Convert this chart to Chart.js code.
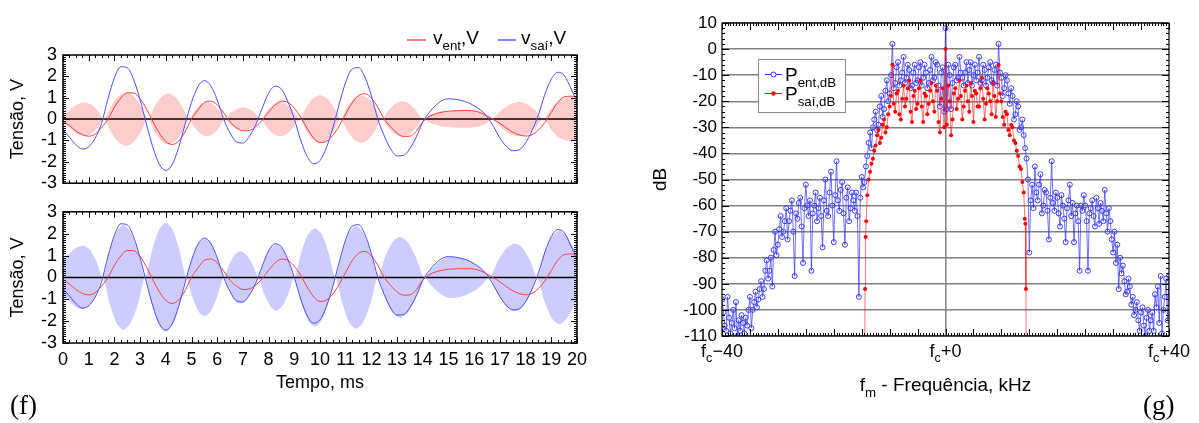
<!DOCTYPE html>
<html>
<head>
<meta charset="utf-8">
<script src="https://cdn.jsdelivr.net/npm/chart.js@4.4.1/dist/chart.umd.min.js"></script>
<style>
  body { margin: 0; background: #fff; }
  #wrap { position: relative; width: 1199px; height: 423px; overflow: hidden; background: #fff; }
  canvas { position: absolute; }
  .tag { position: absolute; font-family: "Liberation Serif", "DejaVu Serif", serif; font-size: 27px; line-height: 30px; }
</style>
</head>
<body>
<div id="wrap">
  <canvas id="topPanel" width="600" height="200" style="left:0px;top:0px"></canvas>
  <canvas id="botPanel" width="600" height="228" style="left:0px;top:195px"></canvas>
  <canvas id="specPanel" width="559" height="423" style="left:640px;top:0px"></canvas>
  <div class="tag" style="left:10px;top:390px">(f)</div>
  <div class="tag" style="left:1143px;top:390px">(g)</div>
</div>
<script>
// ---- dados (f): tempo em ms, tensões em V ----
const timeMs = [0,0.25,0.5,0.75,1,1.25,1.5,1.75,2,2.25,2.5,2.75,3,3.25,3.5,3.75,4,4.25,4.5,4.75,
  5,5.25,5.5,5.75,6,6.25,6.5,6.75,7,7.25,7.5,7.75,8,8.25,8.5,8.75,9,9.25,9.5,9.75,
  10,10.25,10.5,10.75,11,11.25,11.5,11.75,12,12.25,12.5,12.75,13,13.25,13.5,13.75,14,14.25,14.5,14.75,
  15,15.25,15.5,15.75,16,16.25,16.5,16.75,17,17.25,17.5,17.75,18,18.25,18.5,18.75,19,19.25,19.5,19.75,20];

// v_ent (linha vermelha)
const vEnt = [-0.1,-0.3,-0.55,-0.73,-0.8,-0.7,-0.4,0,0.55,0.98,1.23,1.22,0.95,0.47,-0.12,-0.66,-1.05,-1.19,-1.03,-0.6,
  0,0.43,0.78,0.84,0.67,0.29,-0.13,-0.4,-0.55,-0.53,-0.35,-0.06,0.33,0.66,0.84,0.78,0.51,0.09,-0.44,-0.88,
  -1.1,-1.04,-0.76,-0.31,0.24,0.76,1.1,1.19,0.98,0.55,0,-0.37,-0.66,-0.81,-0.8,-0.56,-0.13,0.12,0.25,0.33,
  0.37,0.39,0.4,0.4,0.38,0.3,0.15,-0.02,-0.2,-0.42,-0.61,-0.74,-0.79,-0.73,-0.51,-0.16,0.32,0.78,1.04,1.07,1.05];

// v_saí (linha azul)
const vSai = [-0.5,-0.85,-1.2,-1.4,-1.3,-0.9,-0.2,0.96,1.93,2.45,2.4,1.85,0.9,-0.24,-1.33,-2.12,-2.4,-2.12,-1.33,-0.24,
  0.78,1.52,1.8,1.56,0.9,0,-0.65,-1.07,-1.12,-0.81,-0.26,0.51,1.21,1.54,1.4,0.82,0,-0.99,-1.75,-2.09,
  -1.94,-1.33,-0.41,0.71,1.73,2.34,2.41,1.96,1.09,0,-0.78,-1.4,-1.72,-1.7,-1.38,-0.83,-0.14,0.31,0.64,0.87,
  0.95,0.93,0.87,0.78,0.62,0.42,0.12,-0.35,-0.88,-1.28,-1.48,-1.44,-1.11,-0.54,0.2,1.16,1.87,2.19,2.05,1.48,0.8];

// envoltória do sinal modulado de entrada (área rosa)
const envEntT = [0,0.25,0.55,0.85,1.1,1.35,1.6, 1.88,2.17,2.45,2.73,3.02,3.3, 3.57,3.83,4.1,4.37,4.63,4.9,
  5.13,5.37,5.6,5.83,6.07,6.3, 6.53,6.77,7,7.23,7.47,7.7, 7.95,8.2,8.45,8.7,8.95,9.2,
  9.47,9.73,10,10.27,10.53,10.8, 11.07,11.33,11.6,11.87,12.13,12.4, 12.67,12.93,13.2,13.47,13.73,14,
  14.3,14.7,15.2,15.8,16.2,16.5,16.7, 17.05,17.4,17.75,18.07,18.38,18.7, 19,19.3,19.6,19.8,20];
const envEntV = [0.1,0.42,0.68,0.78,0.68,0.39,0, 0.63,1.09,1.25,1.09,0.63,0, 0.6,1.04,1.2,1.04,0.6,0,
  0.4,0.7,0.8,0.7,0.4,0, 0.28,0.48,0.55,0.48,0.28,0, 0.4,0.7,0.8,0.7,0.4,0,
  0.56,0.97,1.12,0.97,0.56,0, 0.56,0.97,1.12,0.97,0.56,0, 0.42,0.72,0.83,0.72,0.42,0,
  0.2,0.33,0.39,0.4,0.34,0.18,0, 0.4,0.7,0.8,0.7,0.4,0, 0.5,0.87,1,1.02,1];

// envoltória do sinal modulado de saída (área lilás)
const envSaiT = [0,0.25,0.5,0.8,1.05,1.3,1.55, 1.82,2.08,2.35,2.63,2.92,3.2, 3.47,3.73,4,4.27,4.53,4.8,
  5.03,5.27,5.5,5.75,6,6.25, 6.47,6.68,6.9,7.13,7.37,7.6, 7.83,8.07,8.3,8.53,8.77,9,
  9.27,9.53,9.8,10.07,10.33,10.6, 10.87,11.13,11.4,11.68,11.97,12.25, 12.53,12.82,13.1,13.42,13.73,14.05,
  14.3,14.6,15,15.5,16,16.3,16.6, 16.93,17.27,17.6,17.88,18.17,18.45, 18.73,19.02,19.3,19.55,19.8,20];
const envSaiV = [0.8,1.1,1.35,1.45,1.26,0.73,0, 1.2,2.08,2.4,2.08,1.2,0, 1.25,2.17,2.5,2.17,1.25,0,
  0.89,1.55,1.78,1.55,0.89,0, 0.6,1.04,1.2,1.04,0.6,0, 0.76,1.32,1.52,1.32,0.76,0,
  1.13,1.96,2.25,1.96,1.13,0, 1.18,2.04,2.35,2.04,1.18,0, 0.93,1.61,1.85,1.61,0.93,0,
  0.33,0.68,0.94,0.88,0.62,0.35,0, 0.78,1.35,1.55,1.35,0.78,0, 1.08,1.87,2.15,1.95,1.5,1];

// ---- dados (g): espectro, kHz em torno de fc ----
const freqKHz = [
  -40,-39.75,-39.5,-39.25,-39,-38.75,-38.5,-38.25,-38,-37.75,-37.5,-37.25,-37,-36.75,-36.5,-36.25,-36,-35.75,-35.5,-35.25,
  -35,-34.75,-34.5,-34.25,-34,-33.75,-33.5,-33.25,-33,-32.75,-32.5,-32.25,-32,-31.75,-31.5,-31.25,-31,-30.75,-30.5,-30.25,
  -30,-29.75,-29.5,-29.25,-29,-28.75,-28.5,-28.25,-28,-27.75,-27.5,-27.25,-27,-26.75,-26.5,-26.25,-26,-25.75,-25.5,-25.25,
  -25,-24.75,-24.5,-24.25,-24,-23.75,-23.5,-23.25,-23,-22.75,-22.5,-22.25,-22,-21.75,-21.5,-21.25,-21,-20.75,-20.5,-20.25,
  -20,-19.75,-19.5,-19.25,-19,-18.75,-18.5,-18.25,-18,-17.75,-17.5,-17.25,-17,-16.75,-16.5,-16.25,-16,-15.75,-15.5,-15.25,
  -15,-14.75,-14.5,-14.25,-14,-13.75,-13.5,-13.25,-13,-12.75,-12.5,-12.25,-12,-11.75,-11.5,-11.25,-11,-10.75,-10.5,-10.25,
  -10,-9.75,-9.5,-9.25,-9,-8.75,-8.5,-8.25,-8,-7.75,-7.5,-7.25,-7,-6.75,-6.5,-6.25,-6,-5.75,-5.5,-5.25,
  -5,-4.75,-4.5,-4.25,-4,-3.75,-3.5,-3.25,-3,-2.75,-2.5,-2.25,-2,-1.75,-1.5,-1.25,-1,-0.75,-0.5,-0.25,
  0,0.25,0.5,0.75,1,1.25,1.5,1.75,2,2.25,2.5,2.75,3,3.25,3.5,3.75,4,4.25,4.5,4.75,
  5,5.25,5.5,5.75,6,6.25,6.5,6.75,7,7.25,7.5,7.75,8,8.25,8.5,8.75,9,9.25,9.5,9.75,
  10,10.25,10.5,10.75,11,11.25,11.5,11.75,12,12.25,12.5,12.75,13,13.25,13.5,13.75,14,14.25,14.5,14.75,
  15,15.25,15.5,15.75,16,16.25,16.5,16.75,17,17.25,17.5,17.75,18,18.25,18.5,18.75,19,19.25,19.5,19.75,
  20,20.25,20.5,20.75,21,21.25,21.5,21.75,22,22.25,22.5,22.75,23,23.25,23.5,23.75,24,24.25,24.5,24.75,
  25,25.25,25.5,25.75,26,26.25,26.5,26.75,27,27.25,27.5,27.75,28,28.25,28.5,28.75,29,29.25,29.5,29.75,
  30,30.25,30.5,30.75,31,31.25,31.5,31.75,32,32.25,32.5,32.75,33,33.25,33.5,33.75,34,34.25,34.5,34.75,
  35,35.25,35.5,35.75,36,36.25,36.5,36.75,37,37.25,37.5,37.75,38,38.25,38.5,38.75,39,39.25,39.5,39.75,
  40];
const pEnt = [
  -96,-101,-106,-108,-95,-103,-109,-105,-100,-107,-97,-110,-104,-108,-102,-105,-109,-103,-106,-100,
  -95,-107,-100,-97,-93,-99,-96,-92,-89,-95,-92,-85,-81,-88,-85,-80,-91,-77,-70,-79,
  -75,-69,-64,-72,-70,-66,-61,-73,-66,-62,-58,-70,-87,-63,-65,-59,-57,-68,-82,-61,
  -52,-60,-64,-58,-85,-63,-60,-55,-66,-61,-57,-64,-76,-58,-50,-62,-64,-55,-47,-60,
  -74,-56,-43,-58,-62,-54,-51,-63,-75,-57,-53,-66,-61,-55,-58,-62,-55,-64,-95,-57,
  -49,-53,-51,-45,-41,-36,-32,-38,-30,-27,-24,-31,-29,-22,-18,-26,-23,-16,-12,-20,
  -17,-10,2,-15,-13,-7,-5,-14,-12,-9,-3,-13,-11,-6,-8,-15,-14,-9,-6,-13,
  -12,-7,-5,-14,-11,-6,-9,-15,-13,-8,-3,-12,-11,-5,-6,-14,-22,-9,-7,-24,
  8,-23,-6,-10,-23,-13,-7,-6,-12,-11,-3,-9,-11,-14,-9,-5,-13,-8,-5,-14,
  -10,-6,-12,-9,-3,-13,-12,-6,-8,-14,-11,-7,-5,-12,-13,-8,-6,-14,2,-9,
  -11,-18,-15,-10,-12,-17,-21,-15,-18,-27,-25,-20,-22,-31,-30,-27,-33,-38,-42,-50,
  -78,-58,-52,-61,-45,-55,-58,-52,-48,-63,-60,-54,-55,-62,-73,-57,-43,-59,-62,-55,
  -57,-63,-68,-56,-60,-65,-74,-61,-58,-52,-64,-59,-74,-63,-60,-66,-85,-60,-62,-56,
  -60,-66,-85,-63,-61,-58,-64,-68,-57,-61,-67,-59,-62,-66,-54,-63,-70,-61,-66,-73,
  -78,-70,-82,-75,-92,-80,-86,-83,-89,-94,-93,-88,-91,-98,-95,-102,-100,-97,-104,-108,
  -101,-99,-106,-110,-103,-100,-108,-104,-101,-108,-94,-99,-91,-105,-87,-109,-100,-95,-88,-104,
  -87];

const freqSai = [-14.6,-14.4,-14.3,-14.2,
  -14,-13.75,-13.5,-13.25,-13,-12.75,-12.5,-12.25,-12,-11.75,-11.5,-11.25,-11,-10.75,-10.5,-10.25,-10,-9.75,-9.5,-9.25,
  -9,-8.75,-8.5,-8.25,-8,-7.75,-7.5,-7.25,-7,-6.75,-6.5,-6.25,-6,-5.75,-5.5,-5.25,-5,-4.75,-4.5,-4.25,
  -4,-3.75,-3.5,-3.25,-3,-2.75,-2.5,-2.25,-2,-1.75,-1.5,-1.25,-1,-0.75,-0.5,-0.25,0,0.25,0.5,0.75,
  1,1.25,1.5,1.75,2,2.25,2.5,2.75,3,3.25,3.5,3.75,4,4.25,4.5,4.75,5,5.25,5.5,5.75,
  6,6.25,6.5,6.75,7,7.25,7.5,7.75,8,8.25,8.5,8.75,9,9.25,9.5,9.75,10,10.25,10.5,10.75,
  11,11.25,11.5,11.75,12,12.25,12.5,12.75,13,13.25,13.5,13.75,14,
  14.2,14.3,14.4,14.6];
const pSai = [-200,-92,-72,-66,
  -56,-50,-47,-44,-42,-39,-37,-33,-31,-36,-34,-29,-27,-32,-30,-25,-22,-18,-6,-21,
  -24,-17,-16,-25,-27,-19,-14,-22,-19,-15,-12,-24,-28,-18,-16,-23,-21,-15,-12,-22,
  -28,-17,-18,-25,-21,-16,-13,-20,-24,-14,-16,-28,-32,-19,-15,-30,0,-29,-14,-20,
  -33,-27,-17,-15,-23,-19,-12,-18,-27,-22,-16,-14,-20,-24,-13,-18,-28,-16,-17,-22,
  -22,-15,-11,-19,-27,-21,-15,-17,-20,-25,-13,-18,-26,-20,-6,-17,-20,-26,-29,-24,
  -25,-31,-33,-29,-30,-35,-36,-39,-41,-45,-46,-51,-55,
  -65,-67,-92,-200];

const specTickVals = [-40, 0, 40];
const specTickText = ['\u221240', '+0', '+40'];

Chart.defaults.font.family = '"Liberation Sans", Arial, sans-serif';
Chart.defaults.color = '#000';
const FONT = '"Liberation Sans", Arial, sans-serif';

// texto com subscritos desenhado no canvas
function drawRich(ctx, parts, x, y, size, align) {
  let w = 0;
  parts.forEach(p => { ctx.font = (p.sub ? size * 0.7 : size) + 'px ' + FONT; w += ctx.measureText(p.t).width; });
  let cx = align === 'center' ? x - w / 2 : x;
  ctx.textAlign = 'left';
  ctx.textBaseline = 'alphabetic';
  ctx.fillStyle = '#000';
  parts.forEach(p => {
    ctx.font = (p.sub ? size * 0.7 : size) + 'px ' + FONT;
    ctx.fillText(p.t, cx, p.sub ? y + size * 0.3 : y);
    cx += ctx.measureText(p.t).width;
  });
}

// moldura com marcas para dentro nos quatro lados
const frameTicks = {
  id: 'frameTicks',
  afterDraw(chart, args, o) {
    const { ctx, chartArea: a, scales: { x, y } } = chart;
    const side = (sc, minor, major, cb) => {
      const n = Math.round((sc.max - sc.min) / minor);
      for (let i = 0; i <= n; i++) {
        const v = sc.min + i * minor;
        const r = v / major;
        cb(Math.round(sc.getPixelForValue(v)) + 0.5, Math.abs(r - Math.round(r)) < 1e-6 ? o.big : o.small);
      }
    };
    ctx.save();
    ctx.strokeStyle = '#000';
    ctx.lineWidth = 1;
    ctx.beginPath();
    side(x, o.xMinor, o.xMajor, (p, l) => {
      ctx.moveTo(p, a.bottom); ctx.lineTo(p, a.bottom - l);
      ctx.moveTo(p, a.top); ctx.lineTo(p, a.top + l);
    });
    side(y, o.yMinor, o.yMajor, (p, l) => {
      ctx.moveTo(a.left, p); ctx.lineTo(a.left + l, p);
      ctx.moveTo(a.right, p); ctx.lineTo(a.right - l, p);
    });
    ctx.stroke();
    ctx.lineWidth = o.lw;
    ctx.strokeRect(a.left, a.top, a.right - a.left, a.bottom - a.top);
    ctx.restore();
  }
};

// linha de zero por cima da área preenchida
const zeroLine = {
  id: 'zeroLine',
  beforeDatasetDraw(chart, args) {
    if (args.index !== 1) return;
    const { ctx, chartArea: a, scales: { y } } = chart;
    const p = y.getPixelForValue(0);
    ctx.save();
    ctx.strokeStyle = '#000';
    ctx.lineWidth = 1.5;
    ctx.beginPath(); ctx.moveTo(a.left, p); ctx.lineTo(a.right, p); ctx.stroke();
    ctx.restore();
  }
};

// legenda do painel superior
const vLegend = {
  id: 'vLegend',
  afterDraw(chart) {
    const ctx = chart.ctx;
    ctx.save();
    ctx.lineWidth = 1.2;
    ctx.strokeStyle = '#ff3030';
    ctx.beginPath(); ctx.moveTo(407, 40); ctx.lineTo(426, 40); ctx.stroke();
    ctx.strokeStyle = '#3030ff';
    ctx.beginPath(); ctx.moveTo(498, 40); ctx.lineTo(516, 40); ctx.stroke();
    drawRich(ctx, [{ t: 'v' }, { t: 'ent', sub: true }, { t: ',V' }], 433, 44, 19);
    drawRich(ctx, [{ t: 'v' }, { t: 'saí', sub: true }, { t: ',V' }], 521, 44, 19);
    ctx.restore();
  }
};

function pts(xs, ys) { return xs.map((v, i) => ({ x: v, y: ys[i] })); }

function panel(id, envT, envV, fillColor, bottom) {
  return new Chart(document.getElementById(id), {
    type: 'line',
    data: {
      datasets: [
        { data: pts(timeMs, vSai), borderColor: '#4b4bff', borderWidth: 1, pointRadius: 0, cubicInterpolationMode: 'monotone' },
        { data: pts(timeMs, vEnt), borderColor: '#ff3a3a', borderWidth: 1, pointRadius: 0, cubicInterpolationMode: 'monotone' },
        { data: pts(envT, envV), borderColor: 'rgba(0,0,0,0)', borderWidth: 1, pointRadius: 0, tension: 0.25, fill: '+1', backgroundColor: fillColor },
        { data: pts(envT, envV.map(v => -v)), borderColor: 'rgba(0,0,0,0)', borderWidth: 1, pointRadius: 0, tension: 0.25, fill: false }
      ]
    },
    options: {
      responsive: false,
      animation: false,
      devicePixelRatio: 1,
      layout: { padding: { left: 0, right: 23, top: bottom ? 12 : 55, bottom: 0 } },
      plugins: {
        legend: { display: false },
        tooltip: { enabled: false },
        frameTicks: { xMinor: 0.25, xMajor: 1, yMinor: 0.1, yMajor: 1, big: 6, small: 3, lw: 1.5 }
      },
      scales: {
        x: {
          type: 'linear', min: 0, max: 20,
          grid: { display: false, drawTicks: false },
          border: { display: false },
          ticks: { display: bottom, stepSize: 1, autoSkip: false, maxRotation: 0, padding: 6, font: { size: 18 } },
          title: { display: bottom, text: 'Tempo, ms', font: { size: 18 }, padding: { top: 0, bottom: 29 } },
          afterFit: s => { s.height = bottom ? 80 : 9; }
        },
        y: {
          min: -3, max: 3,
          grid: { display: false, drawTicks: false },
          border: { display: false },
          ticks: { stepSize: 1, autoSkip: false, padding: 6, font: { size: 18 } },
          title: { display: true, text: 'Tensão, V', font: { size: 18 }, padding: { top: 7, bottom: 0 } },
          afterFit: s => { s.width = 63; }
        }
      }
    },
    plugins: bottom ? [frameTicks, zeroLine] : [frameTicks, zeroLine, vLegend]
  });
}

panel('topPanel', envEntT, envEntV, 'rgb(255,204,204)', false);
panel('botPanel', envSaiT, envSaiV, 'rgb(204,204,255)', true);

// rótulos com subscritos e legenda do espectro
const specText = {
  id: 'specText',
  afterDraw(chart) {
    const { ctx, scales: { x } } = chart;
    ctx.save();
    specTickVals.forEach((v, i) => {
      drawRich(ctx, [{ t: 'f' }, { t: 'c', sub: true }, { t: specTickText[i] }], x.getPixelForValue(v), 357, 18, 'center');
    });
    drawRich(ctx, [{ t: 'f' }, { t: 'm', sub: true }, { t: ' - Frequência, kHz' }], x.getPixelForValue(0), 391, 19, 'center');
    // caixa da legenda
    ctx.fillStyle = '#fff';
    ctx.fillRect(118, 59, 87, 53);
    ctx.strokeStyle = '#888';
    ctx.lineWidth = 1;
    ctx.strokeRect(118.5, 59.5, 87, 53);
    ctx.strokeStyle = '#2a2aff';
    ctx.beginPath(); ctx.moveTo(125, 74.5); ctx.lineTo(142, 74.5); ctx.stroke();
    ctx.fillStyle = '#fff';
    ctx.beginPath(); ctx.arc(133.5, 74.5, 2.5, 0, Math.PI * 2); ctx.fill(); ctx.stroke();
    ctx.strokeStyle = '#ff0000';
    ctx.beginPath(); ctx.moveTo(125, 93.5); ctx.lineTo(142, 93.5); ctx.stroke();
    ctx.fillStyle = '#ff0000';
    ctx.beginPath(); ctx.arc(133.5, 93.5, 2.2, 0, Math.PI * 2); ctx.fill();
    drawRich(ctx, [{ t: 'P' }, { t: 'ent,dB', sub: true }], 145, 81, 19);
    drawRich(ctx, [{ t: 'P' }, { t: 'saí,dB', sub: true }], 145, 100, 19);
    ctx.restore();
  }
};

new Chart(document.getElementById('specPanel'), {
  type: 'line',
  data: {
    datasets: [
      { data: pts(freqSai, pSai), borderColor: 'rgba(255,0,0,0.55)', borderWidth: 1, pointRadius: 2, pointStyle: 'circle',
        pointBackgroundColor: '#ff0000', pointBorderColor: '#ff0000', pointBorderWidth: 0 },
      { data: pts(freqKHz, pEnt), borderColor: 'rgba(40,40,255,0.65)', borderWidth: 1, pointRadius: 2.5, pointStyle: 'circle',
        pointBackgroundColor: 'rgba(0,0,0,0)', pointBorderColor: '#3a3aff', pointBorderWidth: 1 }
    ]
  },
  options: {
    responsive: false,
    animation: false,
    devicePixelRatio: 1,
    layout: { padding: { left: 0, right: 30, top: 23, bottom: 0 } },
    plugins: {
      legend: { display: false },
      tooltip: { enabled: false },
      frameTicks: { xMinor: 0.5, xMajor: 5, yMinor: 2, yMajor: 10, big: 7, small: 3, lw: 1.2 }
    },
    scales: {
      x: {
        type: 'linear', min: -40, max: 40,
        ticks: { display: false, stepSize: 40 },
        grid: { color: c => c.tick && c.tick.value === 0 ? '#808080' : 'rgba(0,0,0,0)', lineWidth: 1.5, drawTicks: false },
        border: { display: false },
        afterFit: s => { s.height = 87; }
      },
      y: {
        min: -110, max: 10,
        ticks: { stepSize: 10, padding: 5, font: { size: 17 } },
        grid: { color: '#808080', lineWidth: 1.5, drawTicks: false },
        border: { display: false },
        title: { display: true, text: 'dB', font: { size: 19 }, padding: { top: 9, bottom: 0 } },
        afterFit: s => { s.width = 82; }
      }
    }
  },
  plugins: [frameTicks, specText]
});
</script>
</body>
</html>
